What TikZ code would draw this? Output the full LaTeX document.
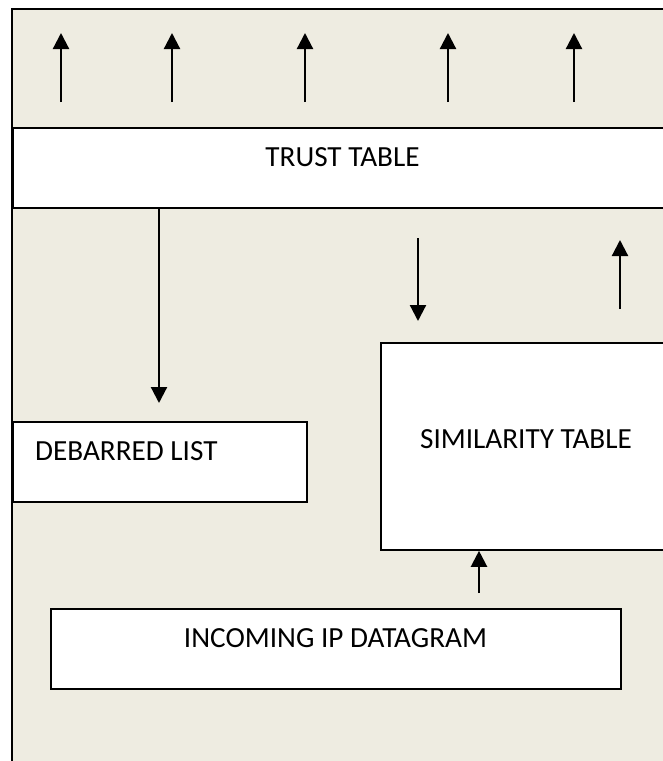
\documentclass[tikz,border=0pt]{standalone}
\usepackage{fontspec}
\setmainfont{Carlito}
\usetikzlibrary{arrows.meta}
\definecolor{bgbeige}{HTML}{EEECE1}
\begin{document}
\begin{tikzpicture}[x=1pt,y=-1pt,
  box/.style={draw=black,line width=1.8pt,fill=white,inner sep=0pt,anchor=north west},
  lbl/.style={font=\fontsize{29.2}{34}\selectfont,inner sep=0pt},
  arr/.style={line width=2.2pt,-{Triangle[width=16pt,length=16pt]}}]
\useasboundingbox (0,0) rectangle (663,761);
\clip (0,0) rectangle (663,761);
\fill[white] (0,0) rectangle (663,761);
\draw[fill=bgbeige,line width=1.8pt] (12,9) rectangle (690,790);
% boxes
\node[box,minimum width=678pt,minimum height=80pt] (trust) at (12,127) {};
\node[box,minimum width=294pt,minimum height=80pt] (debar) at (12,421) {};
\node[box,minimum width=310pt,minimum height=207pt] (sim) at (380,342) {};
\node[box,minimum width=570pt,minimum height=80pt] (inc) at (50,608) {};
% labels
\node[lbl,anchor=base] (trustlbl) at (342.5,166) {TRUST TABLE};
\node[lbl,anchor=base west] (debarlbl) at (35,460) {DEBARRED LIST};
\node[lbl,anchor=base] (simlbl) at (526,448) {SIMILARITY TABLE};
\node[lbl,anchor=base] (inclbl) at (335.5,647) {INCOMING IP DATAGRAM};
% top arrows
\foreach \i/\x in {1/61,2/172,3/305,4/448,5/574}{
  \coordinate (tb\i) at (\x,102);
  \coordinate (tt\i) at (\x,33);
  \draw[arr] (tb\i) -- (tt\i);
}
% trust -> debarred
\coordinate (dtip) at (159,403);
\draw[arr] (trust.south -| dtip) -- (dtip);
% arrows between trust and similarity
\coordinate (d1s) at (418,238);
\coordinate (d1e) at (418,321);
\draw[arr] (d1s) -- (d1e);
\coordinate (u1s) at (620,309);
\coordinate (u1e) at (620,240);
\draw[arr] (u1s) -- (u1e);
% incoming -> similarity
\coordinate (sbase) at (479,593);
\draw[arr] (sbase) -- (sbase |- sim.south);
\end{tikzpicture}
\end{document}
